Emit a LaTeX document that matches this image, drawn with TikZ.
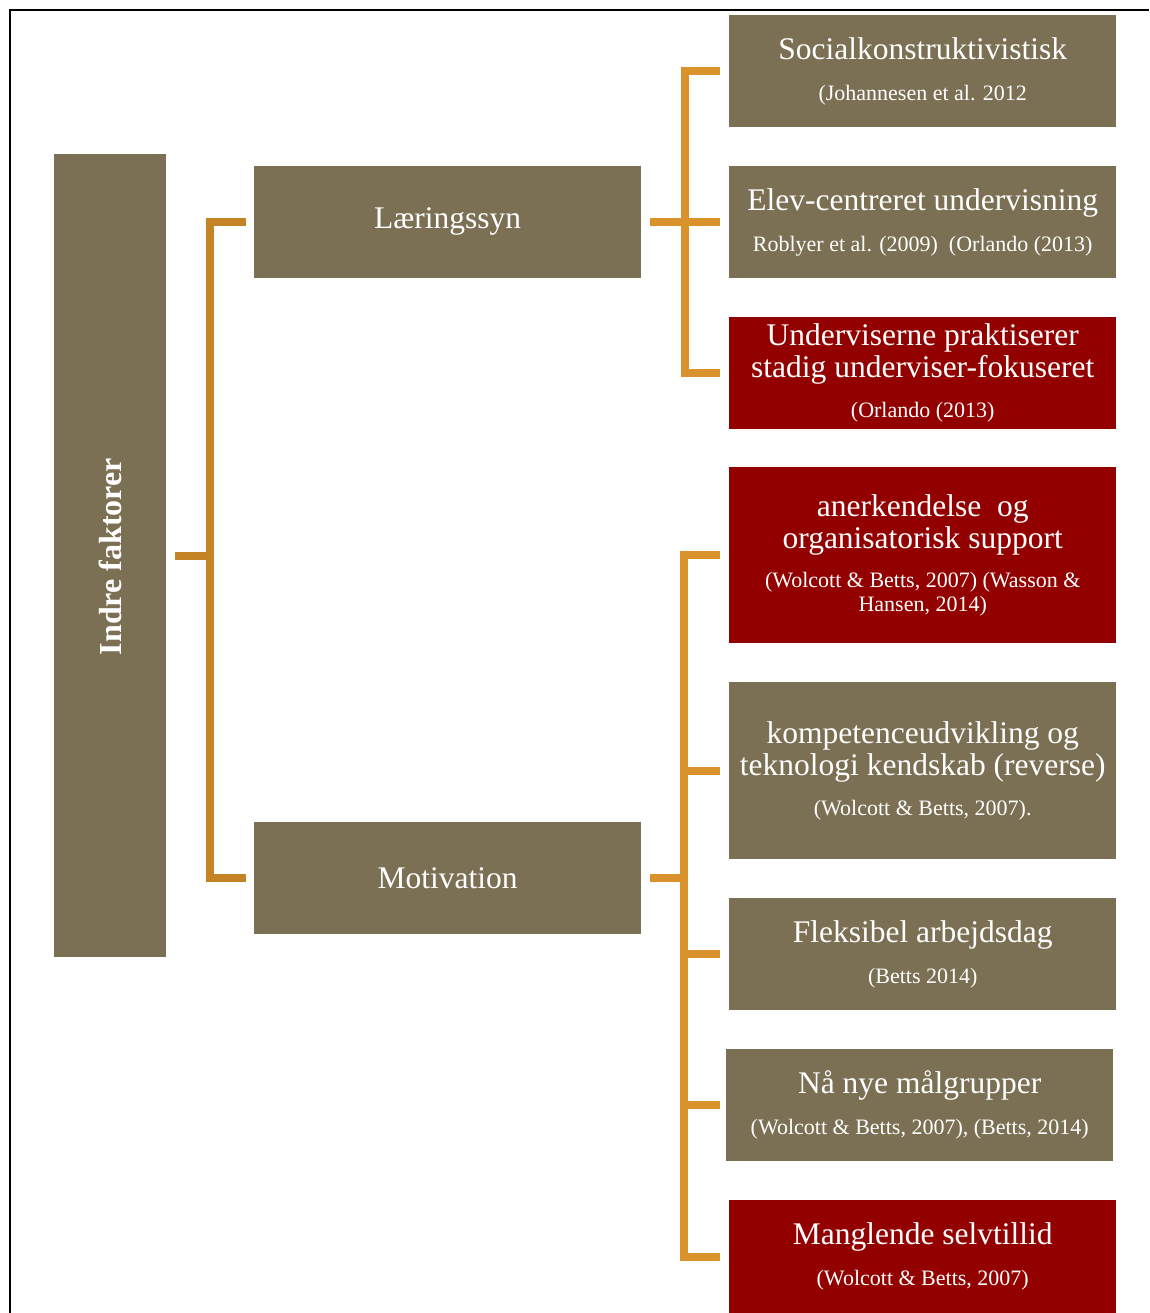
\documentclass[tikz,border=0pt]{standalone}
\usepackage{fontspec}
\setmainfont{Liberation Serif}
\definecolor{boxbrown}{RGB}{123,112,84}
\definecolor{boxred}{RGB}{147,0,0}
\definecolor{linkA}{RGB}{196,132,38}
\definecolor{linkB}{RGB}{218,146,45}
\newcommand\ttlfont{\fontsize{31.5}{32}\selectfont}
\newcommand\citfont{\fontsize{22}{24}\selectfont}
\begin{document}
\begin{tikzpicture}[x=1pt,y=-1pt,
  box/.style={minimum width=387pt, minimum height=111.5pt, inner sep=0pt,
    align=center, text=white, anchor=north west, font=\ttlfont},
  brownbox/.style={box, fill=boxbrown},
  redbox/.style={box, fill=boxred},
  linkL/.style={draw=linkA, line width=8pt},
  linkR/.style={draw=linkB, line width=8pt}]
\useasboundingbox (0,0) rectangle (1149,1313);
% outer frame
\draw[line width=2.5pt] (10,1313) -- (10,10) -- (1149,10);

% root and second level
\node[fill=boxbrown, minimum width=112pt, minimum height=803pt, inner sep=0pt,
  anchor=north west] (ind) at (54,154) {};
\node[rotate=90, text=white, font=\fontsize{32}{34}\selectfont\bfseries]
  (indlabel) at ([yshift=-1pt]ind.center) {Indre faktorer};
\node[brownbox] (lar) at (254,166) {Læringssyn};
\node[brownbox] (mot) at (254,822) {Motivation};

% Læringssyn branch
\node[brownbox] (s1) at (729,15)
  {Socialkonstruktivistisk\\[9pt]{\citfont (Johannesen et al. 2012}};
\node[brownbox] (s2) at (729,166)
  {Elev-centreret undervisning\\[9pt]{\citfont Roblyer et al. (2009)\ \ (Orlando (2013)}};
\node[redbox] (s3) at (729,317)
  {Underviserne praktiserer\\stadig underviser-fokuseret\\[8pt]{\citfont (Orlando (2013)}};

% Motivation branch
\node[redbox, minimum height=176pt] (m1) at (729,467)
  {anerkendelse\ \ og\\organisatorisk support\\[7pt]{\citfont (Wolcott \& Betts, 2007) (Wasson \&}\\[-8pt]{\citfont Hansen, 2014)}};
\node[brownbox, minimum height=177pt] (m2) at (729,682)
  {kompetenceudvikling og\\teknologi kendskab (reverse)\\[8pt]{\citfont (Wolcott \& Betts, 2007).}};
\node[brownbox] (m3) at (729,898)
  {Fleksibel arbejdsdag\\[9pt]{\citfont (Betts 2014)}};
\node[brownbox] (m4) at (726,1049)
  {Nå nye målgrupper\\[9pt]{\citfont (Wolcott \& Betts, 2007), (Betts, 2014)}};
\node[redbox, minimum height=113pt] (m5) at (729,1200)
  {Manglende selvtillid\\[9pt]{\citfont (Wolcott \& Betts, 2007)}};

% connectors
\coordinate (vL) at (210,0);
\coordinate (vT) at (685,0);
\coordinate (vB) at (684,0);

\draw[linkL] ([xshift=9pt]ind.east) -- (ind.east -| vL);
\draw[linkL] ([xshift=-8pt]lar.west) -- (lar.west -| vL) -- (mot.west -| vL) -- ([xshift=-8pt]mot.west);

\draw[linkR] ([xshift=9pt]lar.east) -- (lar.east -| vT);
\draw[linkR] ([xshift=-9pt]s1.west) -- (s1.west -| vT) -- (s3.west -| vT) -- ([xshift=-9pt]s3.west);
\draw[linkR] (s2.west -| vT) -- ([xshift=-9pt]s2.west);

\draw[linkR] ([xshift=9pt]mot.east) -- (mot.east -| vB);
\draw[linkR] ([xshift=-9pt]m1.west) -- (m1.west -| vB) -- (m5.west -| vB) -- ([xshift=-9pt]m5.west);
\draw[linkR] (m2.west -| vB) -- ([xshift=-9pt]m2.west);
\draw[linkR] (m3.west -| vB) -- ([xshift=-9pt]m3.west);
\draw[linkR] (m4.west -| vB) -- ([xshift=-6pt]m4.west);
\end{tikzpicture}
\end{document}
